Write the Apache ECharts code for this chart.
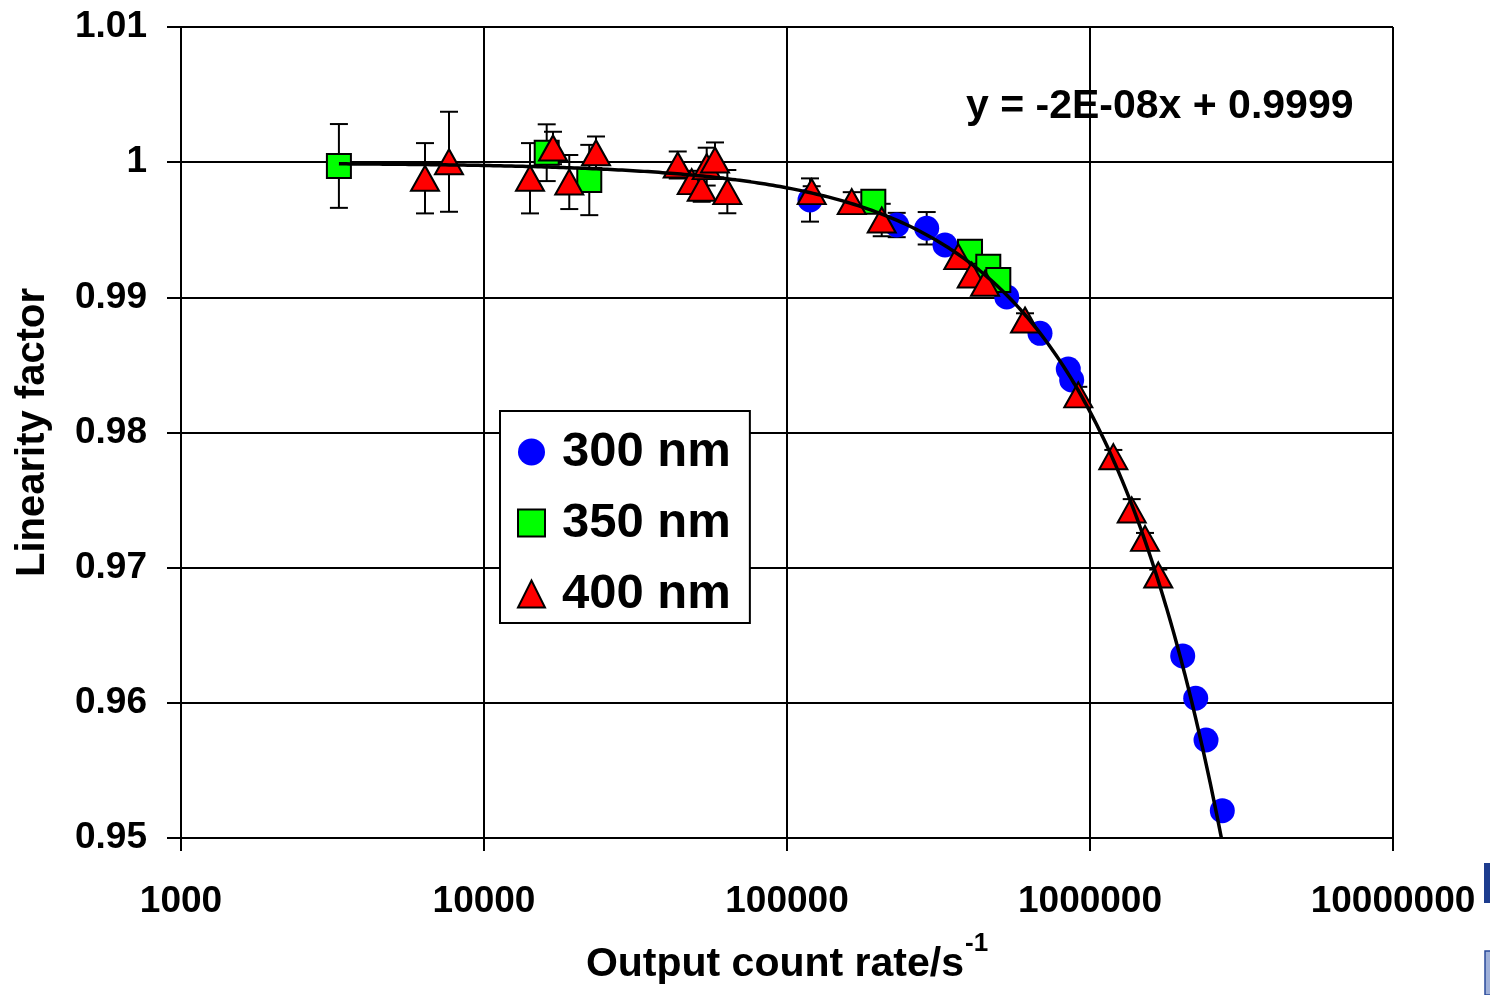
<!DOCTYPE html>
<html>
<head>
<meta charset="utf-8">
<title>Linearity factor vs output count rate</title>
<script src="https://cdn.jsdelivr.net/npm/echarts@6/dist/echarts.min.js"></script>
<style>
  html, body { margin: 0; padding: 0; background: #fff; }
  #chart { width: 1490px; height: 995px; }
</style>
</head>
<body>
<div id="chart"></div>
<script>
// Measured linearity factor per wavelength: output count rate (s^-1), factor, ± uncertainty
const nm300X = [119100, 230200, 289100, 332200, 531100, 683900, 847800, 870000, 2023000, 2233000, 2415000, 2733000];
const nm300Y = [0.99720, 0.99535, 0.99511, 0.99387, 0.99003, 0.98734, 0.98470, 0.98389, 0.96347, 0.96034, 0.95725, 0.95202];
const nm300Err = [0.0016, 0.0009, 0.0012, 0, 0, 0, 0, 0, 0, 0, 0, 0];

const nm350X = [3320, 16104, 22256, 192700, 401800, 461700, 498200];
const nm350Y = [0.99972, 1.00070, 0.99868, 0.99708, 0.99338, 0.99227, 0.99128];
const nm350Err = [0.0031, 0.0021, 0.0026, 0, 0, 0, 0];

const nm400X = [6386, 7664, 14185, 16893, 19118, 23427, 43591, 48473, 52303, 54324, 57863, 63547,
                120650, 163550, 205400, 367600, 407000, 450300, 610300, 914900, 1194000, 1373000, 1519000, 1680000];
const nm400Y = [0.99881, 1.00003, 0.99881, 1.00105, 0.99853, 1.00070, 0.99979, 0.99856, 0.99807, 0.99967, 1.00016, 0.99782,
                0.99782, 0.99708, 0.99572, 0.99301, 0.99165, 0.99104, 0.98832, 0.98278, 0.97821, 0.97427, 0.97217, 0.96946];
const nm400Err = [0.0026, 0.0037, 0.0026, 0.0012, 0.0020, 0.0012, 0.0010, 0.0008, 0.0010, 0.0014, 0.0013, 0.0016,
                  0.0004, 0.0007, 0.0012, 0.0005, 0.0005, 0.0005, 0.0005, 0.0006, 0.0005, 0.0008, 0.0004, 0.0004];

// Linear least-squares fit over all wavelengths: y = slope * x + intercept
const fitSlope = -1.84e-8;
const fitIntercept = 0.99994;

// Axis ranges
const xRange = [1000, 10000000];
const yRange = [0.95, 1.01];
const yStep = 0.01;

const FONT = '"Liberation Sans", Arial, Helvetica, sans-serif';

function pairs(xs, ys) { return xs.map((x, i) => [x, ys[i]]); }
function triples(xs, ys, es) { return xs.map((x, i) => [x, ys[i], es[i]]); }

// Trend line sampled on a log grid from the first measured rate until it leaves the plot
function trendPoints() {
  const allX = nm300X.concat(nm350X, nm400X);
  const x0 = Math.min.apply(null, allX);
  const x1 = (yRange[0] - fitIntercept) / fitSlope;
  const n = 240;
  const pts = [];
  for (let i = 0; i <= n; i++) {
    const x = Math.pow(10, Math.log10(x0) + (Math.log10(x1) - Math.log10(x0)) * i / n);
    pts.push([x, fitSlope * x + fitIntercept]);
  }
  return pts;
}

// Excel-style equation text, e.g. "y = -2E-08x + 0.9999"
function equationText() {
  const parts = fitSlope.toExponential(0).split('e');
  const exp = parseInt(parts[1], 10);
  const expStr = (exp < 0 ? '-' : '+') + String(Math.abs(exp)).padStart(2, '0');
  return 'y = ' + parts[0] + 'E' + expStr + 'x + ' + fitIntercept.toFixed(4);
}

function errorBarSeries(name, data) {
  return {
    name: name + ' error',
    type: 'custom',
    silent: true,
    z: 1,
    encode: { x: 0, y: 1 },
    data: data,
    renderItem: function (params, api) {
      const x = api.value(0), y = api.value(1), e = api.value(2);
      if (!e) return null;
      const top = api.coord([x, y + e]);
      const bot = api.coord([x, y - e]);
      const hw = 9;
      const st = { stroke: '#000', lineWidth: 2 };
      return {
        type: 'group',
        children: [
          { type: 'line', shape: { x1: top[0], y1: top[1], x2: bot[0], y2: bot[1] }, style: st },
          { type: 'line', shape: { x1: top[0] - hw, y1: top[1], x2: top[0] + hw, y2: top[1] }, style: st },
          { type: 'line', shape: { x1: bot[0] - hw, y1: bot[1], x2: bot[0] + hw, y2: bot[1] }, style: st }
        ]
      };
    }
  };
}

const chart = echarts.init(document.getElementById('chart'), null, { renderer: 'canvas' });

const axisLineStyle = { color: '#000', width: 2 };

chart.setOption({
  animation: false,
  backgroundColor: '#fff',
  textStyle: { fontFamily: FONT },
  grid: { left: 181, right: 97, top: 27, bottom: 157, containLabel: false },
  xAxis: {
    type: 'log',
    logBase: 10,
    min: xRange[0],
    max: xRange[1],
    axisLine: { show: true, onZero: false, lineStyle: axisLineStyle },
    axisTick: { show: true, length: 13, inside: false, lineStyle: axisLineStyle },
    minorTick: { show: false },
    splitLine: { show: true, lineStyle: axisLineStyle },
    axisLabel: {
      margin: 45,
      fontSize: 37,
      fontWeight: 'bold',
      color: '#000',
      fontFamily: FONT,
      formatter: function (v) { return String(Math.round(v)); }
    },
    name: '{b|Output count rate/s}{sup|-1}',
    nameLocation: 'middle',
    nameGap: 93,
    nameTextStyle: {
      color: '#000',
      rich: {
        b: { fontSize: 41, fontWeight: 'bold', color: '#000', fontFamily: FONT },
        sup: { fontSize: 26, fontWeight: 'bold', color: '#000', fontFamily: FONT, padding: [0, 0, 41, 1] }
      }
    }
  },
  yAxis: {
    type: 'value',
    min: yRange[0],
    max: yRange[1],
    interval: yStep,
    axisLine: { show: true, onZero: false, lineStyle: axisLineStyle },
    axisTick: { show: true, length: 14, inside: false, lineStyle: axisLineStyle },
    splitLine: { show: true, lineStyle: axisLineStyle },
    axisLabel: {
      margin: 34,
      fontSize: 37,
      fontWeight: 'bold',
      color: '#000',
      fontFamily: FONT,
      formatter: function (v) { return String(+v.toFixed(2)); }
    },
    name: 'Linearity factor',
    nameLocation: 'middle',
    nameGap: 128,
    nameTextStyle: { fontSize: 40, fontWeight: 'bold', color: '#000', fontFamily: FONT, lineHeight: 40 }
  },
  legend: {
    data: ['300 nm', '350 nm', '400 nm'],
    orient: 'vertical',
    left: 500,
    top: 411,
    padding: [13, 19, 1, 17],
    itemWidth: 27,
    itemHeight: 27,
    itemGap: 15,
    symbolKeepAspect: true,
    selectedMode: false,
    backgroundColor: '#fff',
    borderColor: '#000',
    borderWidth: 2,
    borderRadius: 0,
    textStyle: { fontSize: 49, fontWeight: 'bold', color: '#000', fontFamily: FONT, lineHeight: 50, padding: [6, 0, 0, 12] }
  },
  graphic: [
    {
      type: 'text',
      x: 966,
      y: 107,
      z: -1,
      silent: true,
      style: {
        text: equationText(),
        font: 'bold 41px ' + FONT,
        fill: '#000',
        align: 'left',
        verticalAlign: 'middle'
      }
    },
    {
      type: 'rect',
      silent: true,
      shape: { x: 1484, y: 863, width: 6, height: 40 },
      style: { fill: '#1d3c8e' }
    },
    {
      type: 'rect',
      silent: true,
      shape: { x: 1485, y: 951, width: 6, height: 44 },
      style: { fill: '#9fb0d8', stroke: '#2a4a9a', lineWidth: 1.5 }
    }
  ],
  series: [
    errorBarSeries('300 nm', triples(nm300X, nm300Y, nm300Err)),
    errorBarSeries('350 nm', triples(nm350X, nm350Y, nm350Err)),
    errorBarSeries('400 nm', triples(nm400X, nm400Y, nm400Err)),
    {
      name: '300 nm',
      type: 'scatter',
      symbol: 'circle',
      symbolSize: 25,
      z: 3,
      itemStyle: { color: '#0000FF', borderWidth: 0, opacity: 1 },
      emphasis: { disabled: true },
      data: pairs(nm300X, nm300Y)
    },
    {
      name: '350 nm',
      type: 'scatter',
      symbol: 'rect',
      symbolSize: 24,
      z: 3,
      itemStyle: { color: '#00FF00', borderColor: '#000', borderWidth: 2, opacity: 1 },
      emphasis: { disabled: true },
      data: pairs(nm350X, nm350Y)
    },
    {
      name: '400 nm',
      type: 'scatter',
      symbol: 'triangle',
      symbolSize: [28, 25],
      z: 3,
      itemStyle: { color: '#FF0000', borderColor: '#000', borderWidth: 2, opacity: 1 },
      emphasis: { disabled: true },
      data: pairs(nm400X, nm400Y)
    },
    {
      name: 'Linear fit',
      type: 'line',
      z: 4,
      showSymbol: false,
      silent: true,
      clip: true,
      lineStyle: { color: '#000', width: 3.5 },
      emphasis: { disabled: true },
      data: trendPoints()
    }
  ]
});
</script>
</body>
</html>
